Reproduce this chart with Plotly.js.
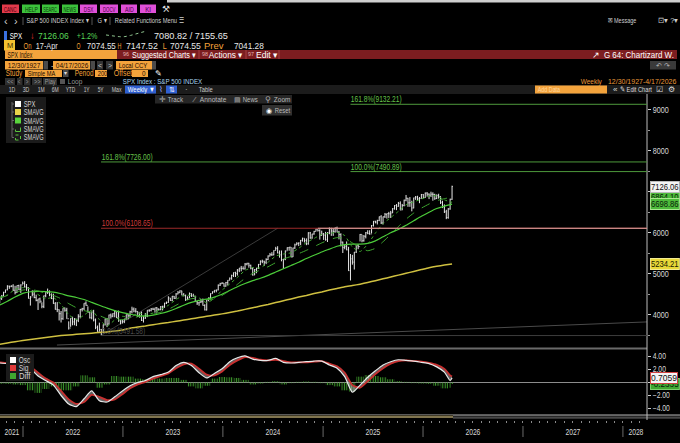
<!DOCTYPE html>
<html><head><meta charset="utf-8">
<script src="https://cdn.plot.ly/plotly-3.0.1.min.js"></script>
<style>html,body{margin:0;padding:0;background:#000;overflow:hidden}#chart{width:680px;height:443px}</style>
</head><body><div id="chart"></div>
<script>
// ---------------- DATA ----------------
const weekStart = '2021-10-08';
const closes = [4391,4471,4545,4605,4697,4683,4698,4595,4538,4712,4620,4726,4766,
4677,4663,4398,4432,4501,4419,4349,4385,4329,4204,4463,4543,4546,4488,4393,4272,4132,4123,4024,3901,4158,4109,3901,3675,3912,3825,3899,3863,3962,4130,4145,4280,4228,4058,3924,4067,3873,3693,3586,3640,3583,3753,3901,3771,3993,3965,4026,4072,3934,3852,3845,3840,
3895,3999,3973,4071,4136,4090,4079,3970,4046,3862,3917,3971,4109,4105,4138,4133,4169,4136,4124,4192,4205,4282,4299,4410,4348,4450,4399,4505,4536,4582,4478,4464,4370,4406,4516,4457,4450,4320,4288,4309,4327,4224,4117,4358,4415,4514,4559,4595,4604,4719,4755,4770,
4697,4784,4840,4891,4959,5027,5006,5089,5137,5124,5117,5234,5254,5204,5123,4967,5100,5128,5223,5303,5305,5278,5347,5432,5465,5460,5567,5615,5505,5459,5347,5344,5554,5634,5648,5408,5626,5703,5738,5751,5815,5864,5808,5729,5995,5871,5969,6032,6090,6051,5931,5971,
5942,5827,5997,6101,6041,6026,6115,6013,5955,5770,5639,5668,5581,5074,5363,5283,5525,5687,5660,5958,5803,5912,6000,5977,5968,6173,6279,6260,6297,6389,6238,6389,6450,6467,6460,6482,6584,6664,6644,6716,6553,6664,6792,6840,6728,6734,6603,6849,6870,6827,6834,6930,
6858,6966,6940,6915,6939,6932,6836,6910,6878,6740,6630,6510,6370,6580,6816,7126.06];
const highs = [4429,4475,4559,4608,4718,4708,4718,4743,4705,4713,4731,4741,4808,
4818,4749,4664,4453,4595,4590,4489,4385,4416,4303,4465,4546,4637,4593,4520,4513,4308,4307,4129,4090,4158,4177,4168,3838,3913,3950,3918,3880,4012,4140,4167,4280,4325,4203,4062,4076,4119,3907,3736,3806,3652,3762,3906,3920,4002,4028,4034,4101,4070,4101,3876,3878,
3895,4003,4015,4095,4195,4176,4160,4080,4048,4078,3965,4039,4110,4133,4163,4170,4171,4186,4154,4212,4219,4291,4322,4449,4408,4458,4456,4527,4578,4594,4584,4527,4491,4449,4541,4521,4511,4463,4338,4311,4386,4394,4255,4366,4418,4521,4568,4596,4609,4738,4778,4793,
4770,4799,4842,4907,4975,5030,5048,5111,5140,5189,5179,5261,5265,5264,5220,5150,5114,5146,5239,5325,5342,5315,5376,5447,5506,5524,5570,5656,5670,5567,5566,5360,5564,5643,5651,5651,5636,5733,5768,5765,5822,5878,5862,5862,6012,6018,5972,6045,6099,6086,6085,6050,
5994,6021,6014,6128,6120,6101,6128,6147,6044,5986,5783,5715,5787,5655,5481,5459,5528,5700,5720,5969,5954,5944,6016,6060,6060,6187,6284,6290,6315,6395,6428,6395,6481,6467,6508,6532,6600,6672,6699,6750,6764,6701,6807,6920,6850,6869,6780,6854,6895,6901,6870,6945,
6940,6980,6990,6960,7000,6985,6950,6935,6950,6890,6780,6690,6560,6600,6830,7147.52];
const lows = [4278,4360,4447,4537,4595,4630,4672,4585,4495,4532,4600,4531,4740,
4662,4582,4395,4222,4451,4401,4327,4115,4279,4157,4161,4424,4506,4450,4381,4267,4124,4062,3859,3810,3875,4073,3900,3637,3705,3741,3742,3722,3819,3911,4079,4112,4218,4057,3907,3887,3837,3647,3584,3588,3492,3590,3738,3698,3764,3906,3938,3938,3918,3828,3764,3783,
3794,3877,3885,3948,4031,4060,4048,3943,3928,3847,3809,3898,3940,4069,4080,4114,4049,4048,4099,4107,4103,4166,4260,4290,4341,4328,4385,4390,4497,4527,4474,4448,4335,4357,4408,4432,4448,4317,4238,4217,4284,4223,4104,4103,4329,4404,4514,4537,4546,4593,4700,4751,
4682,4682,4714,4840,4852,4918,4920,4954,5038,5057,5104,5104,5203,5146,5107,4953,4968,5011,5114,5208,5257,5191,5234,5331,5420,5433,5448,5570,5497,5391,5302,5119,5330,5561,5560,5402,5406,5606,5697,5674,5696,5783,5762,5696,5707,5853,5853,5951,6030,6028,5832,5929,
5824,5806,5773,5962,5923,5923,6001,6008,5837,5667,5505,5597,5572,5069,4835,5220,5101,5505,5598,5786,5767,5782,5861,5964,5953,5983,6151,6227,6201,6281,6212,6201,6360,6344,6360,6360,6481,6563,6551,6633,6550,6550,6643,6766,6631,6631,6521,6595,6800,6790,6720,6830,
6840,6850,6880,6820,6870,6780,6800,6820,6830,6700,6600,6480,6330,6340,6560,6800];
const firstOpen = 4358;

// moving averages sampled every 4 weeks
const smaYellow = [3280,3310,3340,3370,3395,3420,3445,3470,3490,3505,3520,3535,3550,3565,3580,3600,3625,3670,3700,3725,3755,3785,3810,3840,3870,3900,3930,3960,3990,4020,4055,4090,4130,4170,4210,4250,4295,4340,4385,4430,4470,4515,4555,4600,4640,4680,4710,4745,4785,4830,4875,4920,4965,5010,5055,5100,5145,5180,5210,5234.21];
const smaSolid = [4237,4330,4430,4520,4560,4570,4565,4550,4510,4460,4420,4370,4300,4230,4160,4100,4050,4010,3980,3966,3990,4030,4080,4150,4230,4300,4350,4380,4430,4500,4590,4680,4760,4830,4890,4960,5040,5120,5200,5280,5370,5450,5530,5600,5670,5710,5720,5720,5740,5800,5900,6000,6080,6180,6290,6400,6500,6590,6650,6698.86];
const smaDashed = [4400,4470,4540,4600,4620,4580,4520,4470,4390,4270,4170,4100,4060,3980,3900,3870,3880,3910,3950,3980,4010,4060,4130,4230,4330,4390,4400,4370,4380,4470,4590,4740,4890,5010,5090,5170,5270,5360,5420,5490,5570,5660,5750,5830,5880,5860,5750,5640,5560,5620,5780,5960,6150,6330,6480,6600,6700,6780,6830,6864.10];
const smaDotted = [4430,4480,4620,4660,4630,4490,4390,4420,4250,4000,3880,3990,4110,3880,3720,3870,3960,3930,4040,4010,4040,4130,4230,4370,4470,4470,4410,4290,4400,4600,4750,4910,5080,5150,5140,5280,5430,5480,5510,5620,5760,5860,5960,5980,6010,5930,5650,5540,5720,5990,6220,6370,6520,6680,6750,6820,6890,6900,6800,6740];

// oscillator panel (4-week samples + last two weeks)
const oscVals = [3.0,2.9,2.6,2.5,2.1,1.0,0.3,-0.4,-2.0,-3.3,-3.7,-2.5,-1.3,-2.8,-3.0,-2.2,-1.3,-0.5,0.0,0.3,0.9,1.2,1.6,2.6,3.1,2.6,1.5,0.7,1.4,2.1,3.2,3.8,4.1,3.6,3.4,3.4,3.7,3.1,3.0,3.1,3.2,3.3,3.3,2.7,2.2,0.9,-1.5,-0.4,0.8,1.8,2.7,3.2,3.5,3.4,3.3,3.1,2.9,2.4,1.6,0.3,0.7059];
const sigVals = [3.1,3.0,2.8,2.6,2.4,1.5,0.6,0.0,-1.3,-2.6,-3.3,-3.0,-1.9,-2.2,-2.7,-2.6,-1.8,-0.9,-0.3,0.1,0.6,1.0,1.4,2.2,2.8,2.9,2.1,1.2,1.1,1.7,2.7,3.4,3.9,3.8,3.5,3.4,3.5,3.3,3.1,3.1,3.1,3.2,3.3,2.9,2.5,1.5,-0.4,-0.8,0.2,1.3,2.2,2.9,3.3,3.4,3.3,3.2,3.0,2.7,2.1,1.1,0.94];
const diffVals = [-0.2,-0.2,-0.3,-0.4,-1.2,-1.6,-1.0,-0.6,-1.2,-1.2,-0.6,1.1,0.8,-0.8,-0.3,1.0,0.9,0.9,0.6,0.5,0.7,0.6,0.7,0.7,0.4,-0.6,-0.9,-0.5,0.6,0.85,0.8,0.7,0.4,-0.3,-0.15,0.1,0.2,-0.3,-0.1,0.1,0.15,0.1,-0.1,-0.4,-0.6,-1.2,-1.4,0.9,1.15,1.0,0.8,0.5,0.2,0.1,-0.1,-0.15,-0.2,-0.5,-0.9,-0.8,-0.23];

// Fibonacci tools
const fibStartA = '2022-10-13';
const fibLevelsA = [3491.58, 6108.65, 7726.00];
const fibLabelsA = ['0.0%(3491.58)', '100.0%(6108.65)', '161.8%(7726.00)'];
const fibStartB = '2025-04-11';
const fibLevelsB = [7490.89, 9132.21];
const fibLabelsB = ['100.0%(7490.89)', '161.8%(9132.21)'];
const trendEndDate = '2024-07-19';

const yearLabels = ['2021','2022','2023','2024','2025','2026','2027','2028'];
const yearLabelDates = ['2021-11-20','2022-07-02','2023-07-02','2024-07-02','2025-07-02','2026-07-02','2027-07-02','2028-02-17'];
const yearStarts = ['2022-01-01','2023-01-01','2024-01-01','2025-01-01','2026-01-01','2027-01-01','2028-01-01'];
const oscTicks = [-4,-2,0,2,4];
const lastLabels = {price:7126.06, ma2:6864.10, ma1:6698.86, yellow:5234.21, osc:0.7059, diff:-0.2335};

// ---------------- BUILD ----------------
const weekDates = [];
{ let d = new Date(weekStart + 'T00:00:00Z');
  for (let i = 0; i < closes.length; i++) { weekDates.push(d.toISOString().slice(0,10)); d = new Date(d.getTime() + 7*864e5); } }
const opens = [firstOpen].concat(closes.slice(0, -1));
const maDates = weekDates.filter((_, i) => i % 4 === 0);
const oscDates = maDates.slice(0, 59).concat([weekDates[weekDates.length-2], weekDates[weekDates.length-1]]);

const F = "'Liberation Sans',Arial,sans-serif";
const W = 680, H = 443;
const X = p => p / W, Y = p => 1 - p / H;
const shapes = [], annos = [], fitW = [];
function addAnno(a, w){annos.push(a); fitW.push(w===undefined?null:w);}
function rect(x0,y0,x1,y1,fill,line,lw){shapes.push({type:'rect',xref:'paper',yref:'paper',x0:X(x0),x1:X(x1),y0:Y(y1),y1:Y(y0),fillcolor:fill,line:{color:line||fill,width:line?(lw||1):0},layer:'above'});}
function hl(x0,x1,y,c,w,dash){shapes.push({type:'line',xref:'paper',yref:'paper',x0:X(x0),x1:X(x1),y0:Y(y),y1:Y(y),line:{color:c,width:w||1,dash:dash||'solid'},layer:'above'});}
function vl(x,y0,y1,c,w){shapes.push({type:'line',xref:'paper',yref:'paper',x0:X(x),x1:X(x),y0:Y(y0),y1:Y(y1),line:{color:c,width:w||1},layer:'above'});}
function txt(x,y,text,color,size,o){o=o||{};const a={xref:'paper',yref:'paper',x:X(x),y:Y(y),text:text,showarrow:false,xanchor:o.anchor||'left',yanchor:'middle',borderpad:0,font:{family:F,size:size||8,color:color}};addAnno(a,o.w);}

// top strip
rect(167,0,680,2.5,'#cfcfcf');
const btns=[[2,19,'#e23a4a','#4a0010','CANC',13],[22,40,'#3cc23c','#0a3a0a','HELP',13],[42,59,'#3cc23c','#0a3a0a','SEARC',14],[62,78,'#3cc23c','#0a3a0a','NEWS',13],[80,97,'#e050d8','#4a0046','DSX',10],[100,118,'#e050d8','#4a0046','DOCV',13],[121,137,'#e050d8','#4a0046','AID',9],[140,156,'#e050d8','#4a0046','KI',6]];
btns.forEach(b=>{rect(b[0],4.5,b[1],13,b[2]);txt((b[0]+b[1])/2,9,b[4],b[3],6.5,{anchor:'center',w:b[5]});});
txt(161,9,'⚒','#dddddd',9,{w:0});
// row 2
txt(3,21,'‹','#cfcfcf',11,{w:0}); txt(13,21,'›','#cfcfcf',11,{w:0}); vl(23,17,25,'#555');
txt(26,21,'S&amp;P 500 INDEX Index ▾','#cfcfcf',8,{w:62}); vl(92,17,25,'#555');
txt(97,21,'G ▾','#cfcfcf',8,{w:9}); vl(110,17,25,'#555');
txt(114,21,'Related Functions Menu ☰','#cfcfcf',8,{w:69});
txt(607,21,'✉ Message','#cfcfcf',8,{w:29}); txt(657,21,'⊡▾ ?▾','#cfcfcf',8,{w:20});
// row 3
rect(4,31,7,40,'#3a70e0');
txt(9,35,'SPX','#ffffff',9.5,{w:13}); txt(29,35,'↓','#e23030',9.5,{w:0});
txt(37,35,'7126.06','#58d858',9.5,{w:31}); txt(76,35,'+1.2%','#58d858',9.5,{w:21});
txt(153,35,'7080.82 / 7155.65','#e8e8e8',9.5,{w:74});
// row 4
rect(4,40,15,50.5,'#f2c230'); txt(9.5,45.3,'M','#3a2a00',7.5,{anchor:'center',w:0});
txt(23,45.3,'On','#f5a23a',9.5,{w:8}); txt(35,45.3,'17-Apr','#e8e8e8',9.5,{w:22});
txt(76,45.3,'O','#f5a23a',9.5,{w:4}); txt(86,45.3,'7074.55','#e8e8e8',9.5,{w:29});
txt(117,45.3,'H','#f5a23a',9.5,{w:4}); txt(125,45.3,'7147.52','#e8e8e8',9.5,{w:32});
txt(162,45.3,'L','#f5a23a',9.5,{w:4}); txt(169,45.3,'7074.55','#e8e8e8',9.5,{w:31});
txt(203,45.3,'Prev','#f5a23a',9.5,{w:20}); txt(233,45.3,'7041.28','#e8e8e8',9.5,{w:30});
// row 5
rect(5,50,117,59,'#f3a33c'); txt(7,54.5,'SPX Index','#2a1400',9,{w:25});
rect(117,50,677,59,'#7c1d20');
txt(122,54.3,'96','#e6b0b0',5.5,{w:6}); txt(131,54.5,'Suggested Charts ▾','#ffffff',9,{w:64}); vl(199,50,59,'#a54040');
txt(201,54.3,'98','#e6b0b0',5.5,{w:6}); txt(208,54.5,'Actions ▾','#ffffff',9,{w:34}); vl(246,50,59,'#a54040');
txt(247,54.3,'97','#e6b0b0',5.5,{w:6}); txt(255,54.5,'Edit ▾','#ffffff',9,{w:22}); vl(279,50,59,'#a54040');
txt(591,54.5,'↗','#ffffff',8.5,{w:0}); txt(603,54.5,'G 64: Chartizard W.','#ffffff',9,{w:70});
// row 6
rect(5,61,43,69.5,'#f3a33c'); txt(7,65.3,'12/30/1927','#1a0a00',8,{w:33});
rect(43.5,61,48,69.5,'#4a4a4a'); txt(50,65.3,'-','#dddddd',8,{w:0});
rect(53,61,90,69.5,'#f3a33c'); txt(55,65.3,'04/17/2026','#1a0a00',8,{w:33});
rect(90.5,61,95,69.5,'#4a4a4a');
rect(97,61,103,69.5,'#333333'); txt(100,65.3,'<','#cccccc',7,{anchor:'center',w:0});
rect(106,61,113,69.5,'#333333'); txt(109.5,65.3,'>','#cccccc',7,{anchor:'center',w:0});
rect(116,61,152,69.5,'#f3a33c'); txt(118,65.3,'Local CCY','#1a0a00',8,{w:29});
rect(152,61,156,69.5,'#4a4a4a');
rect(650,61,676,69.5,'#3a3a3a'); txt(663,65.3,'↶ ↷','#bbbbbb',7,{anchor:'center',w:14});
// row 7
txt(5,73.5,'Study','#f5a23a',8.5,{w:17});
rect(25,70,62,77,'#f3a33c'); txt(27,73.5,'Simple MA','#1a0a00',8,{w:28});
rect(63,70,68.5,77,'#4a4a4a'); txt(65.7,73.5,'▾','#dddddd',6,{anchor:'center',w:0});
txt(74,73.5,'Period','#f5a23a',8.5,{w:19});
rect(95,70,107,77,'#f3a33c'); txt(96.5,73.5,'200','#1a0a00',8,{w:10});
txt(113,73.5,'Offset','#f5a23a',8.5,{w:19});
rect(132,70,148,77,'#f3a33c'); txt(146.5,73.5,'0','#1a0a00',8,{anchor:'right',w:4});
txt(154,73.5,'✎','#ffffff',8,{w:0});
// row 8
[[5,15,'<<',7],[17,22.5,'<',3],[24,30.5,'>',3],[32,42,'>>',7],[43,57,'Play',11]].forEach(b=>{rect(b[0],78,b[1],85,'#2e2e2e');txt((b[0]+b[1])/2,81.5,b[2],'#9a9a9a',7.5,{anchor:'center',w:b[3]});});
rect(60,79,65,84,'#555555'); txt(67,81.5,'Loop','#9a9a9a',8,{w:15});
txt(122,81.5,'SPX Index : S&amp;P 500 INDEX','#a9d4ef',8,{w:80});
txt(580,81.5,'Weekly','#e89a3a',8,{w:21}); txt(607,81.5,'12/30/1927-4/17/2026','#e89a3a',8,{w:69});
// row 9
rect(0,85,680,94,'#1c1c1c');
[[8,'1D',7],[22,'3D',7],[37,'1M',7],[51,'6M',7],[65,'YTD',10],[83,'1Y',6],[97,'5Y',6],[111,'Max',10]].forEach(b=>txt(b[0],89.5,b[1],'#c8c8c8',7.5,{w:b[2]}));
rect(125,85.5,156,93.5,'#2f5fd0'); txt(127,89.5,'Weekly ▼','#ffffff',7.5,{w:27});
txt(158,89.5,'⌇','#9aa8ff',8,{w:0}); rect(166,85.5,177,93.5,'#2f5fd0'); txt(171.5,89.5,'⇅','#ffffff',7,{anchor:'center',w:0});
txt(184,89.5,'·','#cccccc',8,{w:0}); txt(198,89.5,'Table','#c8c8c8',7.5,{w:14});
rect(535,85.5,607,93.5,'#f3a33c'); txt(537,89.5,'Add Data','#ffd8a0',7.5,{w:23});
txt(612,89.5,'«','#dddddd',8,{w:0}); txt(619,89.5,'✎ Edit Chart','#dddddd',7.5,{w:33}); txt(655,89.5,'☑','#dddddd',8,{w:0}); txt(667,89.5,'⚙','#dddddd',8,{w:0});
// row 10 chart tools
rect(155,95,292,103.5,'#262626');
txt(158,99.3,'✛','#aaaaaa',8,{w:0}); txt(167,99.3,'Track','#bbbbbb',8,{w:16});
txt(191,99.3,'⁄','#aaaaaa',8,{w:0}); txt(199,99.3,'Annotate','#bbbbbb',8,{w:27});
txt(233,99.3,'▤','#aaaaaa',7,{w:0}); txt(242,99.3,'News','#bbbbbb',8,{w:15});
txt(264,99.3,'⚲','#aaaaaa',8,{w:0}); txt(273,99.3,'Zoom','#bbbbbb',8,{w:17});
rect(262,105,292,115.5,'#303030'); txt(265,110.3,'◉','#ffffff',7,{w:0}); txt(274,110.3,'Reset','#bbbbbb',8,{w:16});

// legend box (main)
rect(6,97,46,143,'#1b1b1b');
vl(12,102,137.5,'#666');
[104,112,120.5,129,137.5].forEach(y=>hl(12,14,y,'#666'));
rect(15,101,21,107,'#ffffff'); rect(15,109,21,115,'#e8d44a'); rect(15,117.5,21,123.5,'#59d43d');
shapes.push({type:'rect',xref:'paper',yref:'paper',x0:X(15.5),x1:X(20.5),y0:Y(131.5),y1:Y(126.5),line:{color:'#59c43d',width:1,dash:'dash'},layer:'above'});
shapes.push({type:'rect',xref:'paper',yref:'paper',x0:X(15.5),x1:X(20.5),y0:Y(140),y1:Y(135),line:{color:'#59c43d',width:1,dash:'dot'},layer:'above'});
['SPX','SMAVG','SMAVG','SMAVG','SMAVG'].forEach((t,i)=>txt(23,[104,112,120.5,129,137.5][i],t,'#d4d4d4',8.5,{w:i?20:12}));
// legend box (osc)
rect(6,354,34,381,'#1b1b1b');
rect(10,357,16,363,'#ffffff'); rect(10,365,16,371,'#e03a3a'); rect(10,373,16,379,'#3fa830');
txt(18,360,'Osc','#d4d4d4',8.5,{w:12}); txt(18,368,'Sig','#d4d4d4',8.5,{w:10}); txt(18,376,'Diff','#d4d4d4',8.5,{w:12});

// panel frame lines
hl(0,647,348.5,'#6a6a6a',2);
hl(0,680,414.5,'#5a5a5a',1);
rect(0,415.5,453,418,'#80744e');
rect(453,415.5,680,418,'#262626'); hl(453,680,415.5,'#666',1); hl(453,680,418,'#666',1);
vl(647,94,420,'#bdbdbd',1);

// fib + trend shapes in data coords
const xEnd = '2028-03-29';
const fibColA = ['#3c3c3c','#9c2a2a','#4e9a3c'];
const fibTxtA = ['#4a4a4a','#d23a3a','#66c24a'];
fibLevelsA.forEach((v,i)=>{
  shapes.push({type:'line',xref:'x',yref:'y',x0:fibStartA,x1:xEnd,y0:v,y1:v,line:{color:fibColA[i],width:1},layer:'above'});
  addAnno({xref:'x',yref:'y',x:fibStartA,y:v,text:fibLabelsA[i],showarrow:false,xanchor:'left',yanchor:'bottom',yshift:-1,borderpad:0,font:{family:F,size:8.5,color:fibTxtA[i]}});
});
shapes.push({type:'line',xref:'x',yref:'y',x0:'2024-12-13',x1:xEnd,y0:fibLevelsA[1],y1:fibLevelsA[1],line:{color:'#e4aaa6',width:1},layer:'above'});
fibLevelsB.forEach((v,i)=>{
  shapes.push({type:'line',xref:'x',yref:'y',x0:fibStartB,x1:xEnd,y0:v,y1:v,line:{color:'#4e9a3c',width:1},layer:'above'});
  addAnno({xref:'x',yref:'y',x:fibStartB,y:v,text:fibLabelsB[i],showarrow:false,xanchor:'left',yanchor:'bottom',yshift:-1,borderpad:0,font:{family:F,size:8.5,color:'#66c24a'}});
});
shapes.push({type:'line',xref:'x',yref:'y',x0:fibStartA,x1:trendEndDate,y0:fibLevelsA[0],y1:fibLevelsA[1],line:{color:'#3a3a3a',width:1},layer:'below'});
shapes.push({type:'line',xref:'x',yref:'y',x0:'2022-05-05',x1:xEnd,y0:3260,y1:3824,line:{color:'#4a4a4a',width:1},layer:'below'});

// time axis labels
yearStarts.forEach(d=>shapes.push({type:'line',xref:'x',yref:'paper',x0:d,x1:d,y0:Y(437),y1:Y(426),line:{color:'#6a6a6a',width:1}}));
yearLabels.forEach((t,i)=>addAnno({xref:'x',yref:'paper',x:yearLabelDates[i],y:Y(432),text:t,showarrow:false,xanchor:'center',yanchor:'middle',borderpad:0,font:{family:F,size:9,color:'#d8d8d8'}},15));

// right value labels
function vlab(v,yref,text,bg,fc,bc){addAnno({xref:'paper',yref:yref,x:X(650),y:v,text:text,showarrow:false,xanchor:'left',yanchor:'middle',bgcolor:bg,bordercolor:bc,borderwidth:1,borderpad:0,font:{family:F,size:8.5,color:fc}},28);}
vlab(lastLabels.yellow,'y','5234.21','#e8d838','#1a1a00','#f4ec90');
vlab(lastLabels.ma2,'y','6864.10','#4dbb3a','#0a1a0a','#a8e890');
vlab(lastLabels.ma1,'y','6698.86','#4dbb3a','#0a1a0a','#a8e890');
vlab(lastLabels.price,'y','7126.06','#f4f4f4','#111111','#bbbbbb');
vlab(lastLabels.diff,'y2','-0.2335','#3fa830','#0a1a0a','#7fd070');
vlab(lastLabels.osc,'y2','0.7059','#f4f4f4','#111111','#d04040');

// ---------------- TRACES ----------------
const data = [
  {type:'scatter',mode:'lines',x:maDates,y:smaYellow,line:{color:'#cfc040',width:1.5,shape:'spline',smoothing:0.5},hoverinfo:'skip'},
  {type:'scatter',mode:'lines',x:maDates,y:smaSolid,line:{color:'#4ccc3a',width:1.2,shape:'spline',smoothing:0.5},hoverinfo:'skip'},
  {type:'scatter',mode:'lines',x:maDates,y:smaDashed,line:{color:'#3fa830',width:1,dash:'dash',shape:'spline',smoothing:0.5},hoverinfo:'skip'},
  {type:'scatter',mode:'lines',x:maDates,y:smaDotted,line:{color:'#3fa830',width:1,dash:'dot',shape:'spline',smoothing:0.5},hoverinfo:'skip'},
  {type:'ohlc',x:weekDates,open:opens,high:highs,low:lows,close:closes,xaxis:'x',yaxis:'y',tickwidth:0.35,
   increasing:{line:{color:'#e6e6e6',width:1}},decreasing:{line:{color:'#e6e6e6',width:1}},hoverinfo:'skip'},
  {type:'bar',x:oscDates,y:diffVals,xaxis:'x2',yaxis:'y2',width:oscDates.map((d,i)=>i<59?26*864e5:6*864e5),
   marker:{color:'#3f9f2c',line:{width:0},pattern:{shape:'|',fgcolor:'#3f9f2c',bgcolor:'rgba(0,0,0,0)',size:2.4,solidity:0.45}},hoverinfo:'skip'},
  {type:'scatter',mode:'lines',x:oscDates,y:sigVals,xaxis:'x2',yaxis:'y2',line:{color:'#c83030',width:1.8,shape:'spline',smoothing:0.6},hoverinfo:'skip'},
  {type:'scatter',mode:'lines',x:oscDates,y:oscVals,xaxis:'x2',yaxis:'y2',fill:'tonexty',fillcolor:'rgba(175,175,175,0.55)',line:{color:'#e8e8e8',width:1.2,shape:'spline',smoothing:0.6},hoverinfo:'skip'},
  {type:'scatter',mode:'lines',x:[weekDates[0]],y:[0],xaxis:'x3',yaxis:'y3',line:{width:0},hoverinfo:'skip'},
  {type:'scatter',mode:'lines',x:weekDates.slice(-6),y:closes.slice(-6),xaxis:'x4',yaxis:'y4',line:{color:'#8fc48f',width:1,dash:'dot'},hoverinfo:'skip'}
];
data.slice(0,4).forEach(t=>{t.xaxis='x';t.yaxis='y';});

const xr = ['2021-10-09', xEnd];
const layout = {
  width:W,height:H,margin:{l:0,r:0,t:0,b:0},paper_bgcolor:'#000',plot_bgcolor:'#000',showlegend:false,
  font:{family:F,color:'#dddddd',size:9},
  xaxis:{domain:[0,647/680],range:xr,type:'date',showticklabels:false,showgrid:false,zeroline:false,showline:false,ticks:'',rangeslider:{visible:false},anchor:'y',fixedrange:true},
  yaxis:{domain:[Y(347),Y(97)],range:[3212,9310],side:'right',anchor:'x',showgrid:false,zeroline:false,showline:false,
         ticks:'outside',ticklen:3,tickcolor:'#cfcfcf',dtick:1000,tick0:0,tickfont:{family:F,size:9,color:'#d8d8d8'},
         minor:{dtick:500,tick0:0,ticks:'outside',ticklen:2,tickcolor:'#999999'},fixedrange:true},
  xaxis2:{domain:[0,647/680],range:xr,type:'date',matches:'x',anchor:'y2',showticklabels:false,showgrid:false,zeroline:false,showline:false,ticks:'',fixedrange:true},
  yaxis2:{domain:[Y(415),Y(350)],range:[-5,5],side:'right',anchor:'x2',showgrid:false,zeroline:true,zerolinecolor:'#8c8c8c',zerolinewidth:1,showline:false,
          tickvals:oscTicks,tickformat:'.2f',ticks:'outside',ticklen:3,tickcolor:'#cfcfcf',tickfont:{family:F,size:8.5,color:'#d8d8d8'},fixedrange:true},
  xaxis3:{domain:[0,647/680],range:xr,type:'date',matches:'x',anchor:'y3',showticklabels:false,showgrid:false,zeroline:false,showline:false,
          ticks:'outside',ticklen:2,tickcolor:'#8a8a8a',dtick:'M1',tick0:'2021-01-01',fixedrange:true},
  yaxis3:{domain:[Y(420),Y(419)],range:[0,1],visible:false,fixedrange:true},
  xaxis4:{domain:[X(106),X(147)],anchor:'y4',visible:false,type:'date'},
  yaxis4:{domain:[Y(37.5),Y(30.5)],anchor:'x4',visible:false},
  shapes:shapes,annotations:annos
};

function condense(){
  document.querySelectorAll('g.annotation').forEach(g=>{
    const i=+g.getAttribute('data-index');
    const r=g.querySelector('rect.bg'), t=g.querySelector('text.annotation-text');
    if(!r||!t) return;
    const w=fitW[i]; if(w===0) return;
    const tw=t.getBBox().width; if(!tw) return;
    const s = w ? Math.min(1, w/tw) : 0.78;
    const inner=r.parentNode;
    const rw=parseFloat(r.getAttribute('width'))||r.getBBox().width;
    const xa=annos[i].xanchor||'center';
    const ax= xa==='left'?0:(xa==='right'?rw:rw/2);
    inner.setAttribute('transform',(inner.getAttribute('transform')||'')+' translate('+ax+',0) scale('+s+',1) translate('+(-ax)+',0)');
  });
  document.querySelectorAll('g.ytick text, g.y2tick text').forEach(t=>{
    const b=t.getBBox(); const ax=b.x;
    t.setAttribute('transform',(t.getAttribute('transform')||'')+' translate('+ax+',0) scale(0.8,1) translate('+(-ax)+',0)');
  });
}
Plotly.newPlot('chart',data,layout,{staticPlot:true,displayModeBar:false}).then(condense);
</script></body></html>
